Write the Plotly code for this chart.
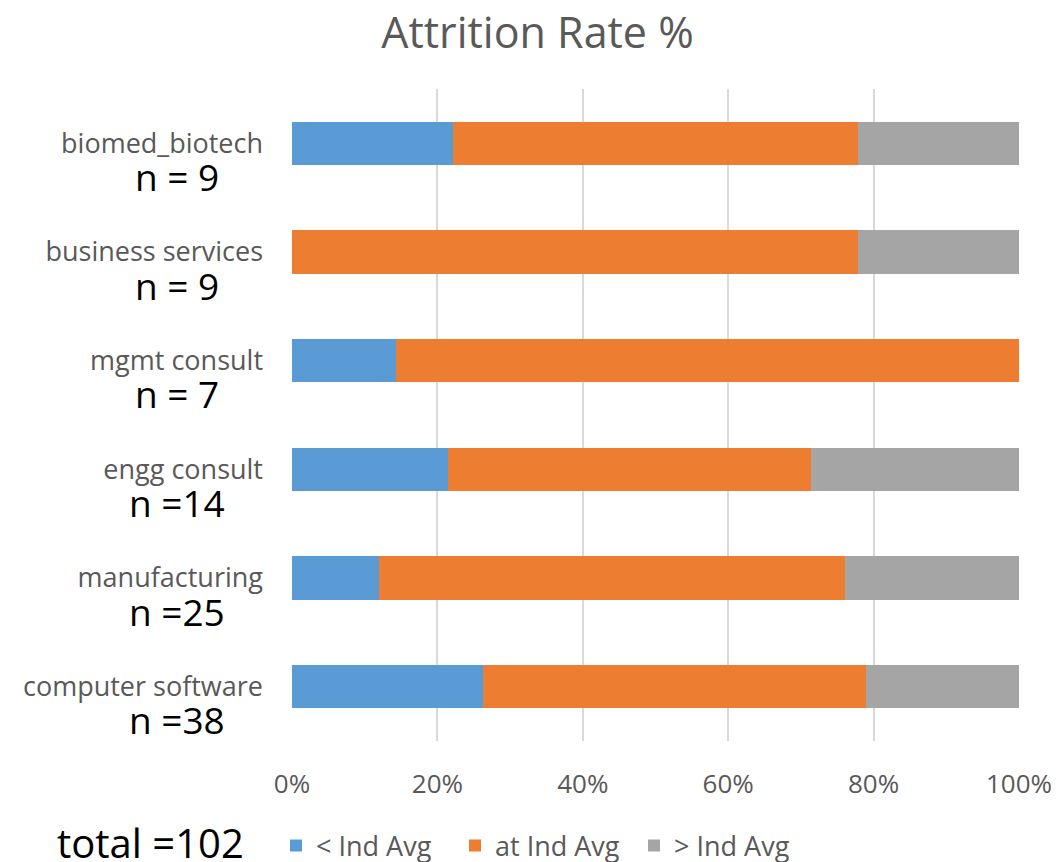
import plotly.graph_objects as go

categories = ["biomed_biotech", "business services", "mgmt consult", "engg consult", "manufacturing", "computer software"]
n_labels = ["n = 9", "n = 9", "n = 7", "n =14", "n =25", "n =38"]
below_avg = [22.2, 0.0, 14.3, 21.4, 12.0, 26.3]
at_avg = [55.6, 77.8, 85.7, 50.0, 64.0, 52.6]
above_avg = [22.2, 22.2, 0.0, 28.6, 24.0, 21.1]
series_names = ["< Ind Avg", "at Ind Avg", "> Ind Avg"]
colors = ["#5B9BD5", "#ED7D31", "#A5A5A5"]
total_label = "total =102"

FONT = "Open Sans"

fig = go.Figure()
for name, vals, col in zip(series_names, [below_avg, at_avg, above_avg], colors):
    fig.add_trace(go.Bar(
        y=categories, x=vals, name=name, orientation="h",
        marker=dict(color=col, line=dict(width=0)),
        hoverinfo="skip",
    ))

for cat, lab in zip(categories, n_labels):
    fig.add_annotation(
        x=-0.158, xref="paper", y=cat, yref="y", yshift=-33,
        text=lab, showarrow=False, xanchor="center", yanchor="middle",
        font=dict(family=FONT, size=37, color="#000000"),
    )

fig.add_annotation(
    x=-0.194, xref="paper", y=-0.155, yref="paper",
    text=total_label, showarrow=False, xanchor="center", yanchor="middle",
    font=dict(family=FONT, size=40, color="#000000"),
)

fig.update_layout(
    width=1059, height=862,
    barmode="stack", bargap=0.6,
    plot_bgcolor="white", paper_bgcolor="white",
    margin=dict(l=284, r=48, t=81, b=129, autoexpand=False),
    title=dict(text="Attrition Rate %", x=0.5, xref="container", xanchor="center",
               y=1 - 25 / 862, yanchor="middle",
               font=dict(family=FONT, size=43, color="#595959")),
    xaxis=dict(range=[0, 100], tickvals=[0, 20, 40, 60, 80, 100],
               ticktext=["0%", "20%", "40%", "60%", "80%", "100%"],
               showgrid=True, gridcolor="#D9D9D9", gridwidth=2,
               zeroline=False, showline=False, ticks="",
               tickfont=dict(family=FONT, size=26, color="#595959"),
               ticklabelstandoff=25),
    yaxis=dict(range=[len(categories) - 0.5, -0.5], autorange=False,
               showgrid=False, zeroline=False, ticks="",
               showline=False,
               tickfont=dict(family=FONT, size=27, color="#595959"),
               ticklabelstandoff=28),
    legend=dict(orientation="h", x=-0.022, xanchor="left", y=-0.161, yanchor="middle",
                font=dict(family=FONT, size=27, color="#595959"),
                traceorder="normal", itemwidth=30,
                entrywidth=134, entrywidthmode="pixels"),
    showlegend=True,
)

fig.write_html("out.html")
